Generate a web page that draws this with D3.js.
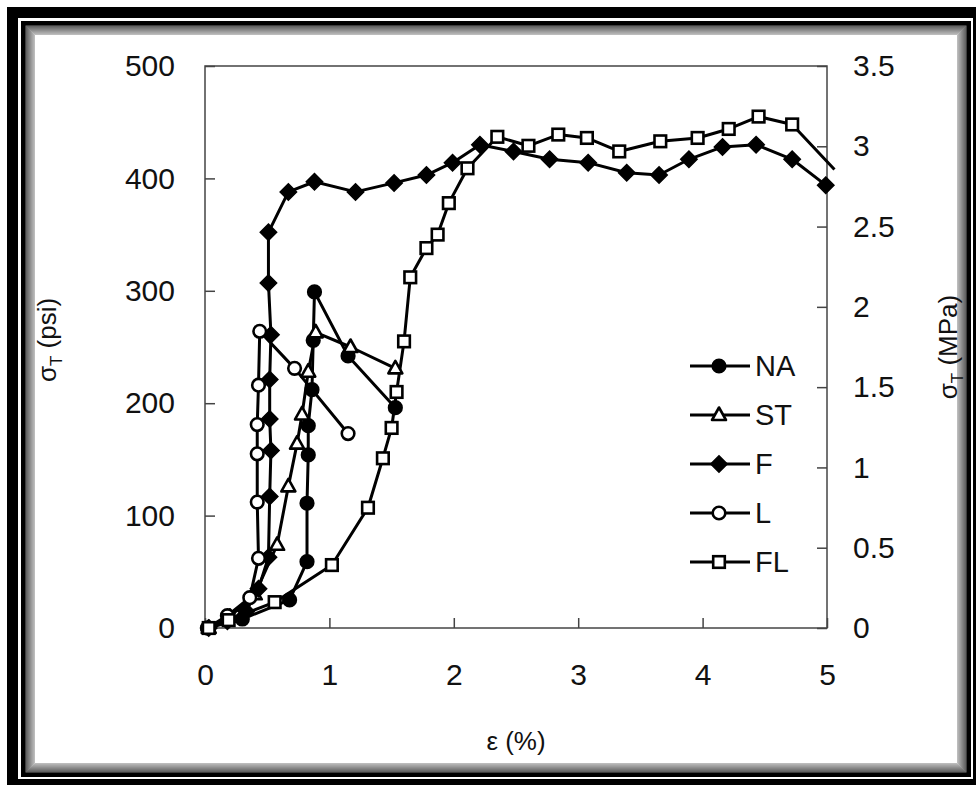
<!DOCTYPE html>
<html>
<head>
<meta charset="utf-8">
<script src="https://cdn.jsdelivr.net/npm/d3@7"></script>
<style>
html,body{margin:0;padding:0;background:#fff;}
svg{display:block;}
text{font-family:"Liberation Sans",Arial,sans-serif;fill:#111;}
</style>
</head>
<body>
<svg id="c" width="976" height="785"></svg>
<script>
// ---- data (strain ε in %, stress σT in psi) ----
const xTicks = [0, 1, 2, 3, 4, 5];
const psiTicks = [0, 100, 200, 300, 400, 500];
const mpaTicks = [0, 0.5, 1, 1.5, 2, 2.5, 3, 3.5];
const seriesNames = ["NA", "ST", "F", "L", "FL"];

const x_NA = [0.02, 0.30, 0.68, 0.82, 0.82, 0.83, 0.83, 0.86, 0.87, 0.88, 1.15, 1.53];
const y_NA = [0, 8, 25, 59, 111, 154, 180, 212, 256, 299, 242, 196];

const x_ST = [0.03, 0.20, 0.40, 0.58, 0.67, 0.74, 0.78, 0.83, 0.89, 1.17, 1.53];
const y_ST = [0, 10, 30, 74, 126, 164, 190, 228, 263, 250, 231];

const x_F = [0.03, 0.18, 0.33, 0.43, 0.51, 0.52, 0.53, 0.52, 0.52, 0.53, 0.51, 0.51, 0.67, 0.88, 1.21, 1.52, 1.78, 1.99, 2.21, 2.48, 2.77, 3.08, 3.39, 3.65, 3.89, 4.16, 4.43, 4.72, 4.99];
const y_F = [0, 6, 15, 35, 63, 117, 158, 186, 221, 261, 307, 352, 388, 397, 388, 396, 403, 414, 430, 424, 417, 414, 405, 403, 417, 428, 430, 417, 394];

const x_L = [0.02, 0.18, 0.36, 0.43, 0.42, 0.42, 0.42, 0.43, 0.44, 0.72, 1.15];
const y_L = [0, 11, 27, 62, 112, 155, 181, 216, 264, 231, 173];

const x_FL = [0.03, 0.19, 0.56, 1.02, 1.31, 1.43, 1.50, 1.54, 1.60, 1.65, 1.78, 1.87, 1.96, 2.11, 2.35, 2.60, 2.84, 3.07, 3.33, 3.66, 3.96, 4.21, 4.45, 4.72, 5.06];
const y_FL = [0, 7, 23, 56, 107, 151, 178, 210, 255, 312, 338, 350, 378, 409, 437, 429, 439, 436, 424, 433, 436, 444, 455, 448, 408];

const series = [
  {name: "NA", xs: x_NA, ys: y_NA, shape: "circle", fill: "#000"},
  {name: "ST", xs: x_ST, ys: y_ST, shape: "triangle", fill: "#fff"},
  {name: "F",  xs: x_F,  ys: y_F,  shape: "diamond", fill: "#000"},
  {name: "L",  xs: x_L,  ys: y_L,  shape: "circle", fill: "#fff"},
  {name: "FL", xs: x_FL, ys: y_FL, shape: "square", fill: "#fff"}
];

const svg = d3.select("#c");

// ---- frame ----
svg.append("rect").attr("x",7).attr("y",7).attr("width",980).attr("height",790).attr("fill","#000");
svg.append("rect").attr("x",18).attr("y",18).attr("width",955).attr("height",761).attr("fill","#fff");
svg.append("rect").attr("x",21).attr("y",21).attr("width",950).attr("height",756).attr("fill","#000");
const shade = d3.interpolateRgb("#7a7a7a", "#ffffff");
for (let i = 0; i < 10; i++) {
  svg.append("rect").attr("x",26+i).attr("y",26+i)
    .attr("width",940-2*i).attr("height",746-2*i)
    .attr("fill", i === 9 ? "#fff" : "none")
    .attr("stroke", shade(i/9)).attr("stroke-width", 1);
}

// ---- scales ----
const L = 205, R = 827, T = 66, B = 628;
const x = d3.scaleLinear().domain([0,5]).range([L,R]);
const y = d3.scaleLinear().domain([0,500]).range([B,T]);
const y2 = d3.scaleLinear().domain([0,3.5]).range([B,T]);

// ---- plot box ----
svg.append("rect").attr("x",L).attr("y",T).attr("width",R-L).attr("height",B-T)
  .attr("fill","none").attr("stroke","#444").attr("stroke-width",1.5);

const fs = 30;
function styleAxis(g){
  g.select(".domain").remove();
  g.selectAll(".tick line").attr("stroke","#444").attr("stroke-width",1.5);
  g.selectAll(".tick text").attr("font-size",fs).attr("fill","#111")
    .attr("font-family","Liberation Sans, Arial, sans-serif");
}
svg.append("g").attr("transform",`translate(${L},0)`)
  .call(d3.axisLeft(y).tickValues(psiTicks).tickSize(-10).tickPadding(30).tickFormat(d3.format("d")))
  .call(styleAxis);
svg.append("g").attr("transform",`translate(${R},0)`)
  .call(d3.axisRight(y2).tickValues(mpaTicks).tickSize(-10).tickPadding(26).tickFormat(d => String(d)))
  .call(styleAxis);
svg.append("g").attr("transform",`translate(0,${B})`)
  .call(d3.axisBottom(x).tickValues(xTicks).tickSize(-10).tickPadding(36).tickFormat(d3.format("d")))
  .call(styleAxis);

// ---- axis titles ----
svg.append("text").attr("x",(L+R)/2).attr("y",750).attr("text-anchor","middle")
  .attr("font-size",26).text("ε (%)");

function sigmaTitle(cx, cy, unit){
  const t = svg.append("text").attr("transform",`translate(${cx},${cy}) rotate(-90)`)
    .attr("text-anchor","middle").attr("font-size",26);
  t.append("tspan").text("σ");
  t.append("tspan").attr("font-size",17).attr("dy",6).text("T");
  t.append("tspan").attr("dy",-6).text(" (" + unit + ")");
}
sigmaTitle(56, 340, "psi");
sigmaTitle(957, 347, "MPa");

// ---- markers ----
function marker(g, shape, fill, cx, cy){
  const sw = 2.6;
  if (shape === "circle") {
    g.append("circle").attr("cx",cx).attr("cy",cy).attr("r",6.3)
      .attr("fill",fill).attr("stroke","#000").attr("stroke-width",sw);
  } else if (shape === "square") {
    g.append("rect").attr("x",cx-5.8).attr("y",cy-5.8).attr("width",11.6).attr("height",11.6)
      .attr("fill",fill).attr("stroke","#000").attr("stroke-width",sw);
  } else if (shape === "diamond") {
    const h = 8.2;
    g.append("path").attr("d",`M${cx},${cy-h}L${cx+h},${cy}L${cx},${cy+h}L${cx-h},${cy}Z`)
      .attr("fill",fill).attr("stroke","#000").attr("stroke-width",1.5);
  } else if (shape === "triangle") {
    g.append("path").attr("d",`M${cx},${cy-7.5}L${cx+7},${cy+5}L${cx-7},${cy+5}Z`)
      .attr("fill",fill).attr("stroke","#000").attr("stroke-width",sw).attr("stroke-linejoin","round");
  }
}

// ---- series ----
const line = d3.line().x(d => x(d[0])).y(d => y(d[1]));
const gData = svg.append("g");
series.forEach(s => {
  const pts = s.xs.map((v,i) => [v, s.ys[i]]);
  gData.append("path").datum(pts).attr("d",line)
    .attr("fill","none").attr("stroke","#000").attr("stroke-width",3).attr("stroke-linejoin","round");
});
series.forEach(s => {
  const g = gData.append("g");
  s.xs.forEach((v,i) => { if (v <= 5) marker(g, s.shape, s.fill, x(v), y(s.ys[i])); });
});

// ---- legend ----
const legY = d3.scalePoint().domain(seriesNames).range([366, 562]);
const gLeg = svg.append("g");
series.forEach(s => {
  const yy = legY(s.name);
  gLeg.append("line").attr("x1",690).attr("x2",750).attr("y1",yy).attr("y2",yy)
    .attr("stroke","#000").attr("stroke-width",3);
  marker(gLeg, s.shape, s.fill, 719, yy);
  gLeg.append("text").attr("x",755).attr("y",yy).attr("dy","0.36em")
    .attr("font-size",29).text(s.name);
});
</script>
</body>
</html>
